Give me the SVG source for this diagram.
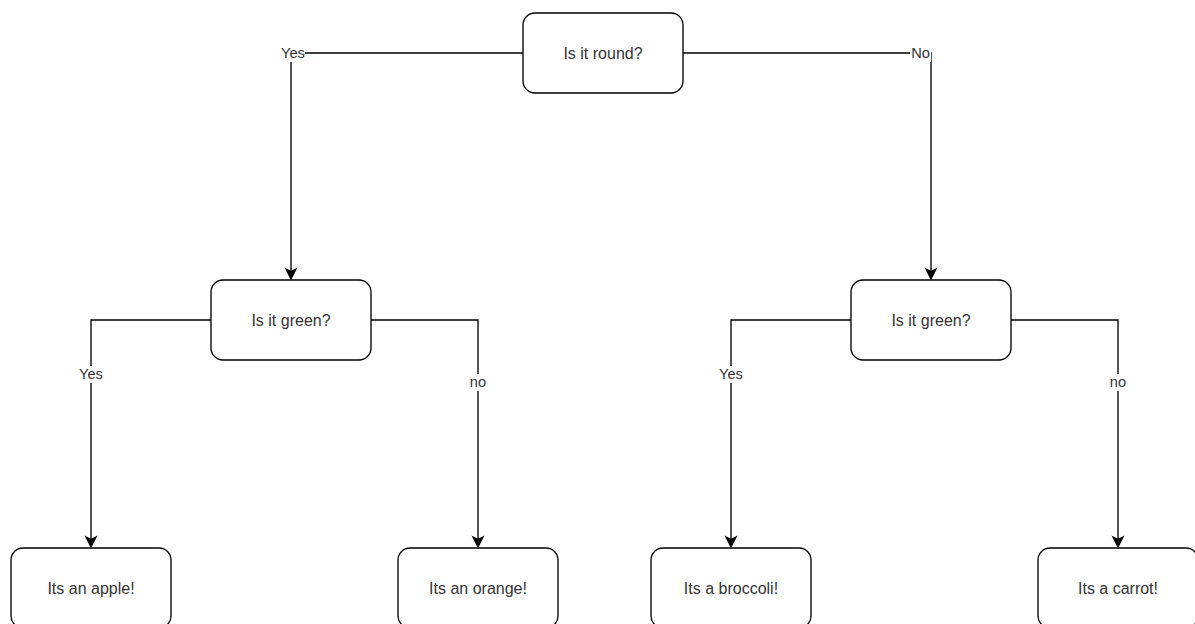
<svg xmlns="http://www.w3.org/2000/svg" width="1195" height="624" viewBox="0 0 1195 624">
<defs>
<style>
.node rect{fill:#ffffff;stroke:#000000;stroke-width:1.33}
.node text{font-family:"Liberation Sans",Arial,sans-serif;font-size:16px;fill:#333333;text-anchor:middle}
.edge{fill:none;stroke:#000000;stroke-width:1.33}
.lbl rect{fill:#ffffff}
.lbl text{font-family:"Liberation Sans",Arial,sans-serif;font-size:14.67px;fill:#333333;text-anchor:middle}
</style>
<marker id="arr" markerUnits="userSpaceOnUse" markerWidth="14" markerHeight="14" viewBox="-12 -7 14 14" refX="0" refY="0" orient="auto">
<path d="M0,0 L-10,-5 L-7.5,0 L-10,5 Z" fill="#000000" stroke="#000000" stroke-width="1.33"/>
</marker>
</defs>
<rect width="1195" height="624" fill="#ffffff"/>
<g id="connectors">
<path class="edge" d="M523,53 H291 V279" marker-end="url(#arr)"/>
<path class="edge" d="M683,53 H931 V279" marker-end="url(#arr)"/>
<path class="edge" d="M211,320 H91 V547" marker-end="url(#arr)"/>
<path class="edge" d="M371,320 H478 V547" marker-end="url(#arr)"/>
<path class="edge" d="M851,320 H731 V547" marker-end="url(#arr)"/>
<path class="edge" d="M1011,320 H1118 V547" marker-end="url(#arr)"/>
<g class="lbl">
<rect x="281" y="45" width="24" height="17"/><text x="293" y="58">Yes</text>
<rect x="910" y="45" width="21" height="17"/><text x="920.5" y="58">No</text>
<rect x="79" y="366" width="24" height="17"/><text x="91" y="379">Yes</text>
<rect x="469" y="374" width="18" height="17"/><text x="478" y="387">no</text>
<rect x="719" y="366" width="24" height="17"/><text x="731" y="379">Yes</text>
<rect x="1109" y="374" width="18" height="17"/><text x="1118" y="387">no</text>
</g>
</g>
<g id="n-round" class="node"><rect x="523" y="13" width="160" height="80" rx="12"/><text x="603" y="58.5">Is it round?</text></g>
<g id="n-green-left" class="node"><rect x="211" y="280" width="160" height="80" rx="12"/><text x="291" y="325.5">Is it green?</text></g>
<g id="n-green-right" class="node"><rect x="851" y="280" width="160" height="80" rx="12"/><text x="931" y="325.5">Is it green?</text></g>
<g id="n-apple" class="node"><rect x="11" y="548" width="160" height="80" rx="12"/><text x="91" y="593.5">Its an apple!</text></g>
<g id="n-orange" class="node"><rect x="398" y="548" width="160" height="80" rx="12"/><text x="478" y="593.5">Its an orange!</text></g>
<g id="n-broccoli" class="node"><rect x="651" y="548" width="160" height="80" rx="12"/><text x="731" y="593.5">Its a broccoli!</text></g>
<g id="n-carrot" class="node"><rect x="1038" y="548" width="160" height="80" rx="12"/><text x="1118" y="593.5">Its a carrot!</text></g>
</svg>
